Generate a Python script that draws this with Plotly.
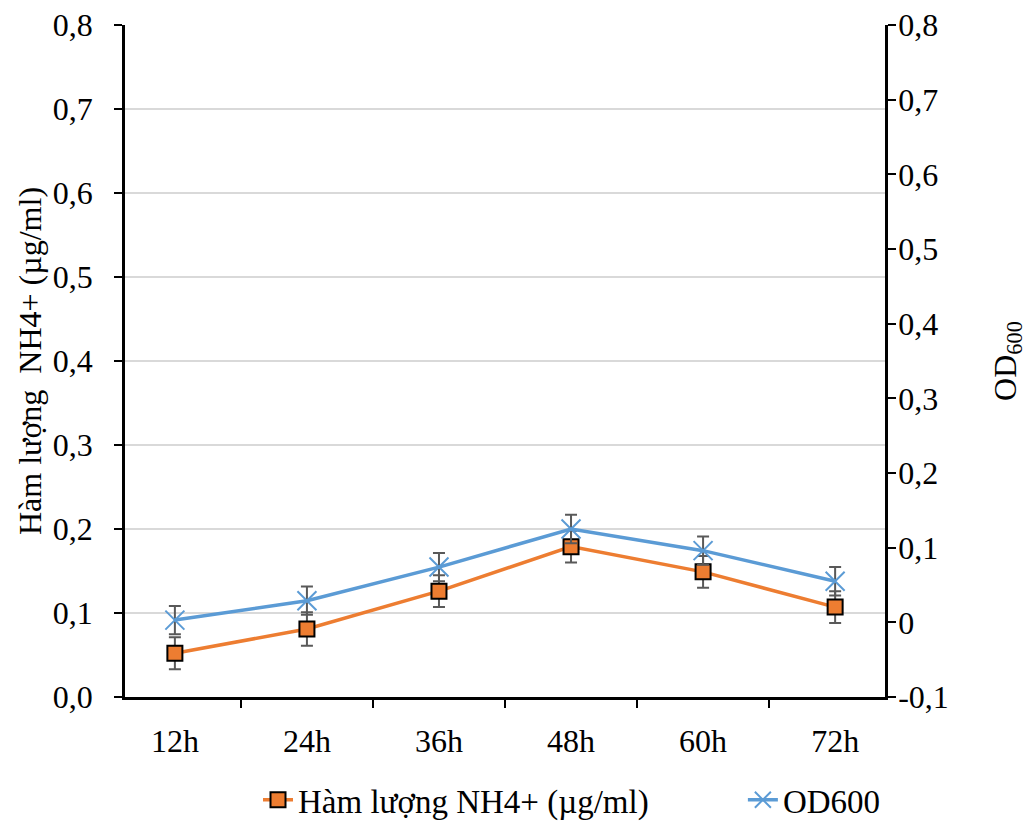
import plotly.graph_objects as go

categories = ["12h", "24h", "36h", "48h", "60h", "72h"]
nh4 = [0.052, 0.081, 0.126, 0.179, 0.149, 0.107]
nh4_err = [0.019, 0.020, 0.019, 0.019, 0.019, 0.019]
od600 = [0.003, 0.029, 0.074, 0.125, 0.096, 0.055]
od600_err = [0.019, 0.019, 0.019, 0.019, 0.019, 0.019]

left_ticks = [0.0, 0.1, 0.2, 0.3, 0.4, 0.5, 0.6, 0.7, 0.8]
left_labels = ["0,0", "0,1", "0,2", "0,3", "0,4", "0,5", "0,6", "0,7", "0,8"]
right_ticks = [-0.1, 0.0, 0.1, 0.2, 0.3, 0.4, 0.5, 0.6, 0.7, 0.8]
right_labels = ["-0,1", "0", "0,1", "0,2", "0,3", "0,4", "0,5", "0,6", "0,7", "0,8"]

FONT = "Liberation Serif"
ORANGE = "#ED7D31"
BLUE = "#5B9BD5"
ERR = "#595959"

fig = go.Figure()
fig.add_trace(go.Scatter(
    x=categories, y=nh4, name="Hàm lượng NH4+ (µg/ml)",
    mode="lines+markers",
    line=dict(color=ORANGE, width=3.5),
    marker=dict(symbol="square", size=15, color=ORANGE, line=dict(color="black", width=2)),
    error_y=dict(type="data", array=nh4_err, color=ERR, thickness=2, width=6),
    yaxis="y", legend="legend",
))
fig.add_trace(go.Scatter(
    x=categories, y=od600, name="OD600",
    mode="lines+markers",
    line=dict(color=BLUE, width=3.5),
    marker=dict(symbol="x-thin", size=19, color=BLUE, line=dict(color=BLUE, width=2)),
    error_y=dict(type="data", array=od600_err, color=ERR, thickness=2, width=6),
    yaxis="y2", legend="legend2",
))

# page body has an 8px margin, so the figure is sized to the remaining window
fig.update_layout(
    width=1023, height=813,
    paper_bgcolor="white", plot_bgcolor="white",
    margin=dict(l=117, r=146, t=17, b=124, autoexpand=False),
    font=dict(family=FONT, size=32, color="black"),
    showlegend=True,
    legend=dict(orientation="h", x=0.175, xanchor="left", y=-0.153, yanchor="middle",
                font=dict(family=FONT, size=33), bgcolor="rgba(0,0,0,0)"),
    legend2=dict(orientation="h", x=0.813, xanchor="left", y=-0.153, yanchor="middle",
                 font=dict(family=FONT, size=33), bgcolor="rgba(0,0,0,0)"),
    xaxis=dict(
        type="category", showline=True, linecolor="black", linewidth=2.5,
        ticks="outside", tickson="boundaries", ticklen=8, tickwidth=2, tickcolor="black",
        showgrid=False, tickfont=dict(size=32), zeroline=False, automargin=False,
        ticklabelstandoff=14,
    ),
    yaxis=dict(
        range=[0, 0.8], tickvals=left_ticks, ticktext=left_labels,
        showline=True, linecolor="black", linewidth=2.5,
        ticks="outside", ticklen=8, tickwidth=2, tickcolor="black",
        showgrid=True, gridcolor="#D9D9D9", gridwidth=1.5, zeroline=False,
        tickfont=dict(size=32), automargin=False,
        ticklabeloverflow="allow", ticklabelstandoff=15,
        title=dict(text="Hàm lượng  NH4+ (µg/ml)", font=dict(size=32), standoff=2),
    ),
    yaxis2=dict(
        range=[-0.1, 0.8], tickvals=right_ticks, ticktext=right_labels,
        overlaying="y", side="right",
        showline=True, linecolor="black", linewidth=2.5,
        ticks="outside", ticklen=8, tickwidth=2, tickcolor="black",
        showgrid=False, zeroline=False,
        tickfont=dict(size=32), automargin=False,
        ticklabeloverflow="allow", ticklabelstandoff=-4,
        title=dict(text="OD<sub>600</sub>", font=dict(size=32), standoff=46),
    ),
)

fig.write_html("out.html")
